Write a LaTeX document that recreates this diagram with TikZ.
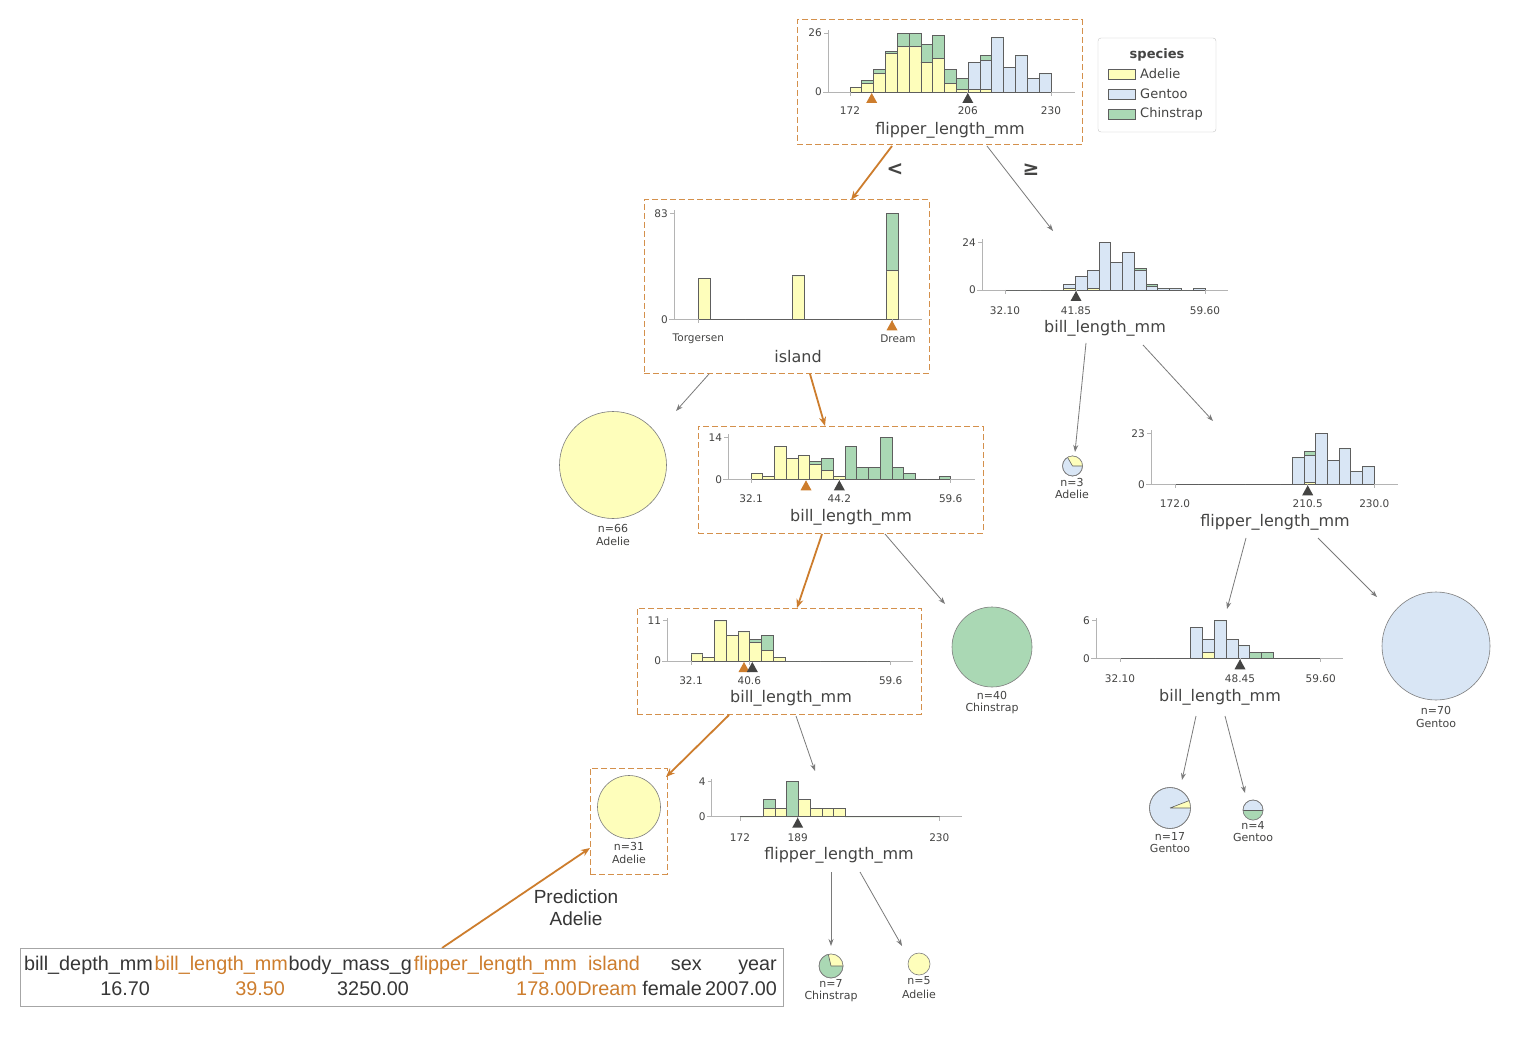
\documentclass[tikz,border=0pt]{standalone}
\usepackage{fontspec}
\setmainfont{DejaVu Sans}
\newfontfamily\arialf{Liberation Sans}
\usetikzlibrary{arrows.meta}
\definecolor{cA}{HTML}{FEFEBB}
\definecolor{cG}{HTML}{D9E6F5}
\definecolor{cC}{HTML}{AAD8B4}
\definecolor{txt}{HTML}{444443}
\definecolor{hl}{RGB}{205,125,45}
\definecolor{edgec}{HTML}{5E5E5E}
\definecolor{axc}{HTML}{B4B4B4}
\definecolor{conc}{HTML}{7A7A7A}
\tikzset{
  bar/.style={draw=edgec, line width=0.8pt},
  axl/.style={draw=axc, line width=0.8pt},
  ytl/.style={anchor=east, font=\fontsize{10.5}{12}\selectfont, text=txt, inner sep=0pt},
  xtl/.style={font=\fontsize{10.5}{12}\selectfont, text=txt, inner sep=0pt},
  axlabel/.style={font=\fontsize{16}{19}\selectfont, text=txt, inner sep=0pt},
  dbox/.style={draw=hl!85, dash pattern=on 6pt off 3pt, line width=1pt, inner sep=0pt},
  area/.style={inner sep=0pt},
  leaf/.style={circle, draw=edgec!80, line width=0.6pt, inner sep=0pt},
  leaftxt/.style={font=\fontsize{11}{13}\selectfont, text=txt, inner sep=0pt},
  gedge/.style={draw=conc, line width=0.8pt, -{Stealth[length=7pt,width=5pt]}},
  oedge/.style={draw=hl, line width=1.8pt, -{Stealth[length=9pt,width=7pt]}},
  tabtxt/.style={font=\arialf\fontsize{19.8}{22}\selectfont, text=txt!80!black, inner sep=0pt, anchor=base east},
  tabhl/.style={tabtxt, text=hl},
  leg/.style={font=\fontsize{13}{15}\selectfont, text=txt, inner sep=0pt, anchor=west},
  cmp/.style={font=\bfseries\fontsize{20}{22}\selectfont, text=txt, inner sep=0pt}
}
% stacked histogram bars: x0, base, bin width, px per count, list i/a/g/c
\newcommand\histbars[5]{%
  \foreach \hbi/\hba/\hbg/\hbc in {#5}{%
    \pgfmathsetmacro\hxl{#1+\hbi*#3}%
    \pgfmathsetmacro\hxr{#1+(\hbi+1)*#3}%
    \pgfmathsetmacro\hya{#2-\hba*#4}%
    \pgfmathsetmacro\hyg{\hya-\hbg*#4}%
    \pgfmathsetmacro\hyc{\hyg-\hbc*#4}%
    \filldraw[bar,fill=cA] (\hxl,#2) rectangle (\hxr,\hya);
    \filldraw[bar,fill=cG] (\hxl,\hya) rectangle (\hxr,\hyg);
    \filldraw[bar,fill=cC] (\hxl,\hyg) rectangle (\hxr,\hyc);
  }}
% axes: name, y-axis x, base y, right x, top y, top label
\newcommand\histaxes[6]{%
  \draw[axl] (#2-5,#3) -- (#4,#3);
  \draw[axl] (#2,#3) -- (#2,#5-3);
  \draw[axl] (#2-4,#5) -- (#2,#5);
  \node[ytl] (#1-ymax) at (#2-6,#5) {#6};
  \node[ytl] (#1-y0) at (#2-6,#3) {0};
}
% x tick: name, x, base y, label y, text
\newcommand\xtk[5]{%
  \draw[axl] (#2,#3) -- (#2,#3+4);
  \node[xtl] (#1) at (#2,#4) {#5};
}
% split triangle: x, base, colour
\newcommand\splittri[3]{%
  \fill[#3] (#1,#2+1) -- (#1-5.5,#2+11) -- (#1+5.5,#2+11) -- cycle;
}
\begin{document}
\begin{tikzpicture}[x=1pt,y=-1pt]
\useasboundingbox (0,0) rectangle (1530,1040);
\fill[white] (0,0) rectangle (1530,1040);

% ---------- root: flipper_length_mm ----------
\node[dbox, minimum width=285pt, minimum height=125pt] (root) at (939.5,82.5) {};
\histaxes{root}{828}{92}{1075}{33}{26}
\histbars{850}{92}{11.82}{2.27}{0/2/0/0,1/4/0/1,2/8/0/2,3/17/0/1,4/20/0/6,5/20/0/6,6/13/0/8,7/15/0/10,8/4/0/6,9/1/0/5,10/1/12/0,11/1/13/2,12/0/24/0,13/0/11/0,14/0/16/0,15/0/6/0,16/0/8/0}
\xtk{root-t1}{850}{92}{111}{172}
\xtk{root-t2}{967.8}{92}{111}{206}
\xtk{root-t3}{1051}{92}{111}{230}
\splittri{871.7}{92}{hl}
\splittri{967.8}{92}{txt}
\node[axlabel] (root-lab) at (950,130) {flipper\_length\_mm};

% ---------- legend ----------
\node[draw=gray!45, rounded corners=3pt, minimum width=118pt, minimum height=94pt, inner sep=0pt] (legend) at (1157,85) {};
\node[font=\bfseries\fontsize{13}{15}\selectfont, text=txt, inner sep=0pt] (legtitle) at (1157,55) {species};
\filldraw[bar, line width=0.6pt, fill=cA] (1108,69) rectangle (1135,79);
\filldraw[bar, line width=0.6pt, fill=cG] (1108,89) rectangle (1135,99);
\filldraw[bar, line width=0.6pt, fill=cC] (1108,109) rectangle (1135,119);
\node[leg] (leg1) at (1140,74) {Adelie};
\node[leg] (leg2) at (1140,94) {Gentoo};
\node[leg] (leg3) at (1140,114) {Chinstrap};

% ---------- island ----------
\node[dbox, minimum width=285pt, minimum height=173pt] (isl) at (786.5,286.5) {};
\histaxes{isl}{674}{319.3}{922}{213.3}{83}
\histbars{698.3}{319.3}{11.76}{1.277}{0/32/0/0,1/0/0/0,2/0/0/0,3/0/0/0,4/0/0/0,5/0/0/0,6/0/0/0,7/0/0/0,8/34/0/0,9/0/0/0,10/0/0/0,11/0/0/0,12/0/0/0,13/0/0/0,14/0/0/0,15/0/0/0,16/38/0/45}
\xtk{isl-t1}{698.3}{319.3}{339}{Torgersen}
\draw[axl] (892,319.3) -- (892,323.3);
\node[xtl] (isl-t2) at (898,339) {Dream};
\splittri{892}{319.3}{hl}
\node[axlabel] (isl-lab) at (798,357) {island};

% ---------- right: bill_length_mm ----------
\node[area, minimum width=285pt, minimum height=110pt] (blR) at (1100,285) {};
\histaxes{blR}{982}{290}{1228}{242.3}{24}
\histbars{1005}{290}{11.76}{1.99}{0/0/0/0,1/0/0/0,2/0/0/0,3/0/0/0,4/0/0/0,5/1/2/0,6/0/7/0,7/1/9/0,8/0/24/0,9/0/14/0,10/0/19/0,11/0/10/1,12/0/2/1,13/0/1/0,14/0/1/0,15/0/0/0,16/0/1/0}
\xtk{blR-t1}{1005}{290}{311}{32.10}
\xtk{blR-t2}{1076}{290}{311}{41.85}
\xtk{blR-t3}{1205}{290}{311}{59.60}
\splittri{1076}{290}{txt}
\node[axlabel] (blR-lab) at (1105,328) {bill\_length\_mm};

% ---------- bill_length_mm (level 3, on path) ----------
\node[dbox, minimum width=285pt, minimum height=107pt] (bl1) at (840.5,479.5) {};
\histaxes{bl1}{728.3}{479.3}{975}{437.3}{14}
\histbars{751}{479.3}{11.75}{3}{0/2/0/0,1/1/0/0,2/11/0/0,3/7/0/0,4/8/0/0,5/5/0/1,6/3/0/4,7/1/0/0,8/0/0/11,9/0/0/4,10/0/0/4,11/0/0/14,12/0/0/4,13/0/0/2,14/0/0/0,15/0/0/0,16/0/0/1}
\xtk{bl1-t1}{751}{479.3}{499}{32.1}
\xtk{bl1-t2}{839.3}{479.3}{499}{44.2}
\xtk{bl1-t3}{950.7}{479.3}{499}{59.6}
\splittri{806}{479.3}{hl}
\splittri{839.3}{479.3}{txt}
\node[axlabel] (bl1-lab) at (851,517) {bill\_length\_mm};

% ---------- right: flipper_length_mm ----------
\node[area, minimum width=285pt, minimum height=110pt] (flR) at (1270,478) {};
\histaxes{flR}{1151}{484.3}{1398}{433.3}{23}
\histbars{1175}{484.3}{11.72}{2.217}{0/0/0/0,1/0/0/0,2/0/0/0,3/0/0/0,4/0/0/0,5/0/0/0,6/0/0/0,7/0/0/0,8/0/0/0,9/0/0/0,10/0/12/0,11/1/12/2,12/0/23/0,13/0/11/0,14/0/16/0,15/0/6/0,16/0/8/0}
\xtk{flR-t1}{1175}{484.3}{503.5}{172.0}
\xtk{flR-t2}{1307.7}{484.3}{503.5}{210.5}
\xtk{flR-t3}{1374.3}{484.3}{503.5}{230.0}
\splittri{1307.7}{484.3}{txt}
\node[axlabel] (flR-lab) at (1275,522) {flipper\_length\_mm};

% ---------- bill_length_mm (level 4, on path) ----------
\node[dbox, minimum width=284pt, minimum height=106pt] (bl2) at (779,661) {};
\histaxes{bl2}{667.3}{661}{913}{620.7}{11}
\histbars{691}{661}{11.75}{3.66}{0/2/0/0,1/1/0/0,2/11/0/0,3/7/0/0,4/8/0/0,5/5/0/1,6/3/0/4,7/1/0/0,8/0/0/0,9/0/0/0,10/0/0/0,11/0/0/0,12/0/0/0,13/0/0/0,14/0/0/0,15/0/0/0,16/0/0/0}
\xtk{bl2-t1}{691}{661}{681}{32.1}
\xtk{bl2-t2}{749.3}{661}{681}{40.6}
\xtk{bl2-t3}{890.7}{661}{681}{59.6}
\splittri{744}{661}{hl}
\splittri{752.3}{661}{txt}
\node[axlabel] (bl2-lab) at (791,698) {bill\_length\_mm};

% ---------- right: bill_length_mm (level 4) ----------
\node[area, minimum width=270pt, minimum height=100pt] (blR2) at (1215,655) {};
\histaxes{blR2}{1096}{658.3}{1343}{620.7}{6}
\histbars{1120}{658.3}{11.8}{6.27}{0/0/0/0,1/0/0/0,2/0/0/0,3/0/0/0,4/0/0/0,5/0/0/0,6/0/5/0,7/1/2/0,8/0/6/0,9/0/3/0,10/0/2/0,11/0/0/1,12/0/0/1,13/0/0/0,14/0/0/0,15/0/0/0,16/0/0/0}
\xtk{blR2-t1}{1120}{658.3}{678.5}{32.10}
\xtk{blR2-t2}{1240}{658.3}{678.5}{48.45}
\xtk{blR2-t3}{1320.7}{658.3}{678.5}{59.60}
\splittri{1240}{658.3}{txt}
\node[axlabel] (blR2-lab) at (1220,697) {bill\_length\_mm};

% ---------- flipper_length_mm (level 5) ----------
\node[area, minimum width=270pt, minimum height=100pt] (fl2) at (830,820) {};
\histaxes{fl2}{711.7}{816.7}{962}{781.7}{4}
\histbars{740}{816.7}{11.72}{8.75}{0/0/0/0,1/0/0/0,2/1/0/1,3/1/0/0,4/0/0/4,5/2/0/0,6/1/0/0,7/1/0/0,8/1/0/0,9/0/0/0,10/0/0/0,11/0/0/0,12/0/0/0,13/0/0/0,14/0/0/0,15/0/0/0,16/0/0/0}
\xtk{fl2-t1}{740}{816.7}{837.7}{172}
\xtk{fl2-t2}{797.7}{816.7}{837.7}{189}
\xtk{fl2-t3}{939.3}{816.7}{837.7}{230}
\splittri{797.7}{816.7}{txt}
\node[axlabel] (fl2-lab) at (839,855) {flipper\_length\_mm};

% ---------- leaves ----------
\node[leaf, fill=cA, minimum size=107pt] (l66) at (613,465) {};
\node[leaftxt] (l66a) at (613,528) {n=66};
\node[leaftxt] (l66b) at (613,541) {Adelie};

\node[leaf, fill=cC, minimum size=80pt] (l40) at (992,647) {};
\node[leaftxt] (l40a) at (992,695) {n=40};
\node[leaftxt] (l40b) at (992,708) {Chinstrap};

\node[leaf, fill=cG, minimum size=108pt] (l70) at (1436,646) {};
\node[leaftxt] (l70a) at (1436,710) {n=70};
\node[leaftxt] (l70b) at (1436,723) {Gentoo};

\node[leaf, fill=cG, minimum size=20pt] (l3) at (1072.5,466) {};
\fill[cA] (l3.center) -- ++(10,0) arc[start angle=0, end angle=-120, radius=10] -- cycle;
\draw[edgec, line width=0.6pt] (l3.center) -- ++(10,0) (l3.center) -- ++(-120:10);
\node[leaf, minimum size=20pt] (l3o) at (1072.5,466) {};
\node[leaftxt] (l3a) at (1072,482) {n=3};
\node[leaftxt] (l3b) at (1072,494) {Adelie};

\node[leaf, fill=cG, minimum size=41pt] (l17) at (1170,808) {};
\fill[cA] (l17.center) -- ++(20.5,0) arc[start angle=0, end angle=-21.2, radius=20.5] -- cycle;
\draw[edgec, line width=0.6pt] (l17.center) -- ++(20.5,0) (l17.center) -- ++(-21.2:20.5);
\node[leaf, minimum size=41pt] (l17o) at (1170,808) {};
\node[leaftxt] (l17a) at (1170,836) {n=17};
\node[leaftxt] (l17b) at (1170,848) {Gentoo};

\node[leaf, fill=cG, minimum size=20pt] (l4) at (1253,810) {};
\fill[cC] (1243,810) arc[start angle=180, end angle=0, radius=10] -- cycle;
\draw[edgec, line width=0.6pt] (1243,810) -- (1263,810);
\node[leaf, minimum size=20pt] (l4o) at (1253,810) {};
\node[leaftxt] (l4a) at (1253,825) {n=4};
\node[leaftxt] (l4b) at (1253,837) {Gentoo};

\node[dbox, minimum width=77pt, minimum height=106pt] (p31) at (628.5,821) {};
\node[leaf, fill=cA, minimum size=63pt] (l31) at (629,807) {};
\node[leaftxt] (l31a) at (629,846) {n=31};
\node[leaftxt] (l31b) at (629,859) {Adelie};

\node[leaf, fill=cC, minimum size=24pt] (l7) at (831,966) {};
\fill[cA] (l7.center) -- ++(12,0) arc[start angle=0, end angle=-103, radius=12] -- cycle;
\draw[edgec, line width=0.6pt] (l7.center) -- ++(12,0) (l7.center) -- ++(-103:12);
\node[leaf, minimum size=24pt] (l7o) at (831,966) {};
\node[leaftxt] (l7a) at (831,983) {n=7};
\node[leaftxt] (l7b) at (831,996) {Chinstrap};

\node[leaf, fill=cA, minimum size=22pt] (l5) at (919,964) {};
\node[leaftxt] (l5a) at (919,981) {n=5};
\node[leaftxt] (l5b) at (919,994) {Adelie};

% ---------- connectors ----------
\coordinate (e1s) at (892,146);   \coordinate (e1e) at (851,200);
\coordinate (e2s) at (987,146);   \coordinate (e2e) at (1053,231);
\coordinate (e3s) at (709,374);   \coordinate (e3e) at (676,411);
\coordinate (e4s) at (810,374);   \coordinate (e4e) at (825,426);
\coordinate (e5s) at (1086,343);  \coordinate (e5e) at (1075,452);
\coordinate (e6s) at (1143,345);  \coordinate (e6e) at (1213,421);
\coordinate (e7s) at (822,534);   \coordinate (e7e) at (797,608);
\coordinate (e8s) at (885,534);   \coordinate (e8e) at (945,604);
\coordinate (e9s) at (1246,538);  \coordinate (e9e) at (1227,609);
\coordinate (e10s) at (1318,538); \coordinate (e10e) at (1377,597);
\coordinate (e11s) at (729,715);  \coordinate (e11e) at (666,777);
\coordinate (e12s) at (796,716);  \coordinate (e12e) at (815,771);
\coordinate (e13s) at (1196,716); \coordinate (e13e) at (1182,780);
\coordinate (e14s) at (1225,716); \coordinate (e14e) at (1245,793);
\coordinate (e15s) at (831,872);  \coordinate (e15e) at (831,946);
\coordinate (e16s) at (860,872);  \coordinate (e16e) at (902,946);
\coordinate (e17s) at (442,948);  \coordinate (e17e) at (590,848);

\draw[oedge] (e1s) -- (e1e);
\draw[gedge] (e2s) -- (e2e);
\draw[gedge] (e3s) -- (e3e);
\draw[oedge] (e4s) -- (e4e);
\draw[gedge] (e5s) -- (e5e);
\draw[gedge] (e6s) -- (e6e);
\draw[oedge] (e7s) -- (e7e);
\draw[gedge] (e8s) -- (e8e);
\draw[gedge] (e9s) -- (e9e);
\draw[gedge] (e10s) -- (e10e);
\draw[oedge] (e11s) -- (e11e);
\draw[gedge] (e12s) -- (e12e);
\draw[gedge] (e13s) -- (e13e);
\draw[gedge] (e14s) -- (e14e);
\draw[gedge] (e15s) -- (e15e);
\draw[gedge] (e16s) -- (e16e);
\draw[oedge] (e17s) -- (e17e);

\node[cmp] (lt) at (895,170) {<};
\node[cmp] (ge) at (1031,170) {≥};

% ---------- prediction ----------
\node[font=\arialf\fontsize{19}{22}\selectfont, text=txt!80!black, inner sep=0pt] (pred1) at (576,897) {Prediction};
\node[font=\arialf\fontsize{19}{22}\selectfont, text=txt!80!black, inner sep=0pt] (pred2) at (576,919) {Adelie};

% ---------- instance table ----------
\node[draw=gray!70, line width=0.8pt, minimum width=763pt, minimum height=58pt, inner sep=0pt] (table) at (401.5,977) {};
\node[tabtxt] (h1) at (153,970) {bill\_depth\_mm};
\node[tabhl]  (h2) at (288,970) {bill\_length\_mm};
\node[tabtxt] (h3) at (412,970) {body\_mass\_g};
\node[tabhl]  (h4) at (577,970) {flipper\_length\_mm};
\node[tabhl]  (h5) at (640,970) {island};
\node[tabtxt] (h6) at (702,970) {sex};
\node[tabtxt] (h7) at (777,970) {year};
\node[tabtxt] (v1) at (150,995) {16.70};
\node[tabhl]  (v2) at (285,995) {39.50};
\node[tabtxt] (v3) at (409,995) {3250.00};
\node[tabhl]  (v4) at (577,995) {178.00};
\node[tabhl]  (v5) at (637,995) {Dream};
\node[tabtxt] (v6) at (702,995) {female};
\node[tabtxt] (v7) at (777,995) {2007.00};
\end{tikzpicture}
\end{document}
